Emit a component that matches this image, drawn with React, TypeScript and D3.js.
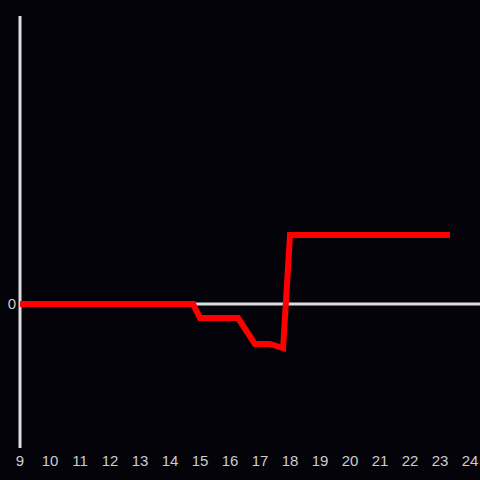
import React from "react";
import * as d3 from "d3";

const hours = [9, 14.77, 15.0, 16.27, 16.83, 17.33, 17.77, 18.0, 23.33];
const values = [0, 0, -14, -14, -40, -40, -44, 69, 69];
const xTicks = [9, 10, 11, 12, 13, 14, 15, 16, 17, 18, 19, 20, 21, 22, 23, 24];
const yTicks = [0];

export default function App() {
  const W = 480, H = 480;
  const x = d3.scaleLinear().domain([9, 24]).range([20, 470]);
  const y = d3.scaleLinear().domain([-144, 288]).range([448, 16]);
  const line = d3
    .line<number>()
    .x((_, i) => x(hours[i]))
    .y((d) => y(d));
  return (
    <svg
      width={W}
      height={H}
      style={{ position: "fixed", left: 0, top: 0, background: "#05030a" }}
    >
      <rect width={W} height={H} fill="#05030a" />
      <line x1={20} x2={20} y1={y(288)} y2={y(-144)} stroke="#dddddd" strokeWidth={3} />
      <line x1={20} x2={480} y1={y(0)} y2={y(0)} stroke="#dddddd" strokeWidth={3} />
      {yTicks.map((t) => (
        <text
          key={t}
          x={16}
          y={y(t)}
          dy="0.36em"
          textAnchor="end"
          fill="#cccccc"
          fontSize={15}
          fontFamily="Liberation Sans, Arial, sans-serif"
        >
          {t}
        </text>
      ))}
      {xTicks.map((t) => (
        <text
          key={t}
          x={x(t)}
          y={466}
          textAnchor="middle"
          fill="#cccccc"
          fontSize={15}
          fontFamily="Liberation Sans, Arial, sans-serif"
        >
          {t}
        </text>
      ))}
      <path
        d={line(values) || ""}
        fill="none"
        stroke="#ff0000"
        strokeWidth={6}
        strokeLinejoin="miter"
      />
    </svg>
  );
}
